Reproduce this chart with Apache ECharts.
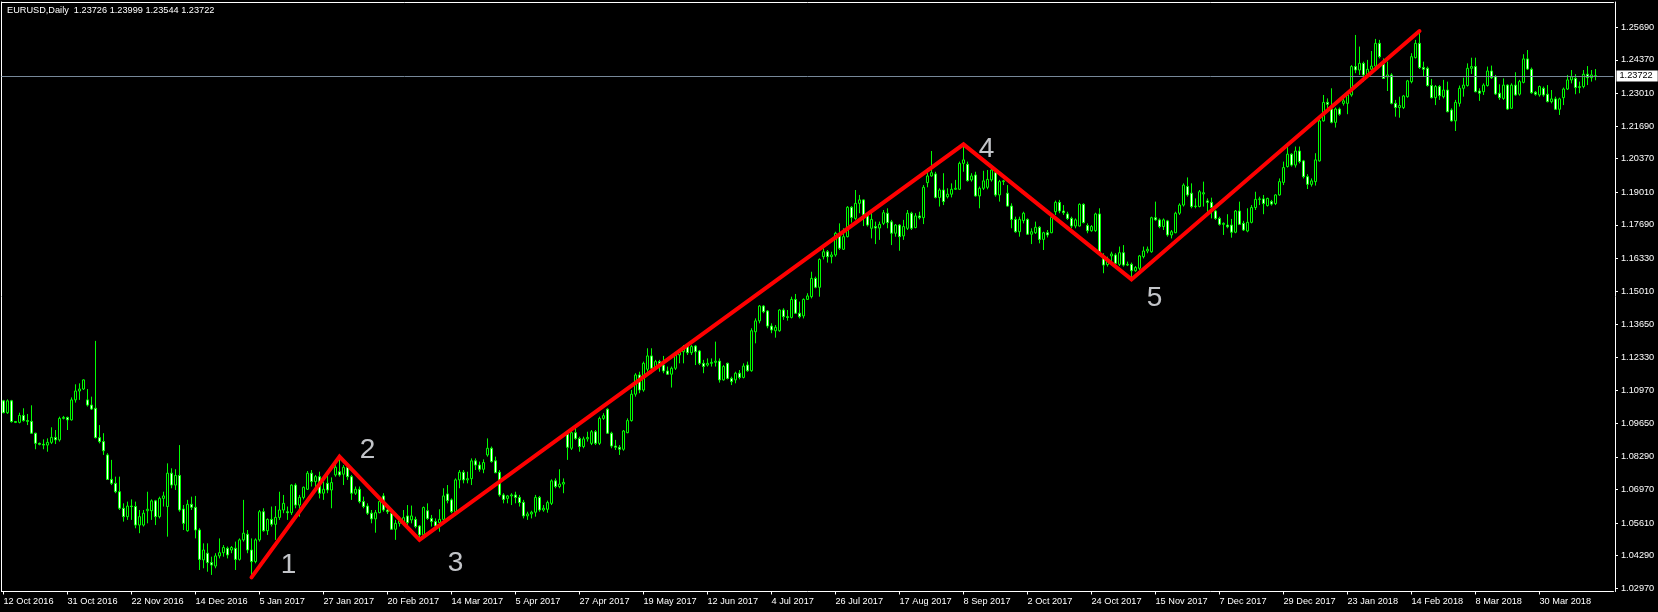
<!DOCTYPE html>
<html>
<head>
<meta charset="utf-8">
<script src="https://cdn.jsdelivr.net/npm/echarts@6/dist/echarts.min.js"></script>
<style>
html,body{margin:0;padding:0;background:#000;}
#chart{width:1658px;height:612px;}
</style>
</head>
<body>
<div id="chart"></div>
<script>
// Daily EURUSD candles: [open, close, low, high]
const candles = [
[1.1056,1.1008,1.1006,1.1060],[1.1008,1.1056,1.1003,1.1062],[1.1056,1.0972,1.0968,1.1060],[1.0972,1.0969,1.0966,1.0973],
[1.0969,1.0997,1.0965,1.1008],[1.0997,1.0976,1.0972,1.1026],[1.0976,1.0973,1.0958,1.1003],[1.0973,1.0925,1.0922,1.1038],
[1.0925,1.0884,1.0860,1.0927],[1.0884,1.0880,1.0876,1.0887],[1.0880,1.0877,1.0860,1.0900],[1.0877,1.0888,1.0850,1.0904],
[1.0888,1.0908,1.0881,1.0949],[1.0908,1.0898,1.0881,1.0938],[1.0898,1.0985,1.0891,1.0992],[1.0985,1.0989,1.0981,1.0995],
[1.0989,1.0979,1.0938,1.0992],[1.0979,1.1060,1.0976,1.1070],[1.1060,1.1096,1.1049,1.1123],[1.1096,1.1104,1.1060,1.1127],
[1.1104,1.1141,1.1100,1.1143],[1.1060,1.1039,1.1033,1.1104],[1.1039,1.1023,1.1019,1.1073],[1.1026,1.0907,1.0904,1.1299],
[1.0907,1.0891,1.0884,1.0958],[1.0891,1.0854,1.0837,1.0925],[1.0837,1.0738,1.0736,1.0844],[1.0738,1.0722,1.0715,1.0817],
[1.0722,1.0688,1.0682,1.0749],[1.0688,1.0621,1.0614,1.0749],[1.0621,1.0587,1.0567,1.0641],[1.0587,1.0630,1.0574,1.0648],
[1.0630,1.0628,1.0574,1.0657],[1.0628,1.0553,1.0540,1.0648],[1.0553,1.0587,1.0520,1.0614],[1.0553,1.0601,1.0547,1.0614],
[1.0611,1.0617,1.0560,1.0688],[1.0611,1.0651,1.0574,1.0657],[1.0651,1.0587,1.0553,1.0655],[1.0587,1.0661,1.0580,1.0668],
[1.0661,1.0671,1.0628,1.0688],[1.0628,1.0763,1.0506,1.0803],[1.0763,1.0715,1.0702,1.0783],[1.0715,1.0754,1.0695,1.0779],
[1.0754,1.0614,1.0607,1.0877],[1.0618,1.0560,1.0533,1.0634],[1.0530,1.0637,1.0526,1.0655],[1.0637,1.0625,1.0614,1.0668],
[1.0625,1.0533,1.0499,1.0671],[1.0533,1.0414,1.0371,1.0540],[1.0412,1.0452,1.0378,1.0479],[1.0439,1.0401,1.0364,1.0479],
[1.0401,1.0391,1.0351,1.0425],[1.0387,1.0428,1.0378,1.0439],[1.0428,1.0441,1.0418,1.0499],[1.0441,1.0462,1.0425,1.0472],
[1.0459,1.0432,1.0418,1.0466],[1.0452,1.0462,1.0439,1.0468],[1.0459,1.0414,1.0371,1.0486],[1.0414,1.0493,1.0409,1.0499],
[1.0493,1.0520,1.0486,1.0655],[1.0516,1.0452,1.0439,1.0533],[1.0452,1.0405,1.0345,1.0499],[1.0405,1.0493,1.0398,1.0499],
[1.0493,1.0607,1.0486,1.0614],[1.0607,1.0530,1.0526,1.0621],[1.0530,1.0576,1.0513,1.0580],[1.0576,1.0556,1.0547,1.0628],
[1.0556,1.0584,1.0493,1.0630],[1.0584,1.0614,1.0574,1.0688],[1.0614,1.0641,1.0601,1.0675],[1.0607,1.0603,1.0574,1.0628],
[1.0603,1.0715,1.0594,1.0718],[1.0715,1.0634,1.0621,1.0722],[1.0634,1.0665,1.0587,1.0675],[1.0665,1.0706,1.0657,1.0709],
[1.0698,1.0763,1.0695,1.0772],[1.0763,1.0729,1.0709,1.0776],[1.0729,1.0749,1.0695,1.0756],[1.0749,1.0682,1.0661,1.0769],
[1.0682,1.0698,1.0655,1.0729],[1.0722,1.0695,1.0682,1.0756],[1.0695,1.0725,1.0621,1.0746],[1.0756,1.0787,1.0749,1.0810],
[1.0769,1.0756,1.0749,1.0826],[1.0759,1.0787,1.0715,1.0796],[1.0786,1.0749,1.0736,1.0790],[1.0749,1.0682,1.0655,1.0756],
[1.0682,1.0698,1.0675,1.0709],[1.0698,1.0648,1.0641,1.0709],[1.0648,1.0628,1.0621,1.0668],[1.0630,1.0601,1.0594,1.0641],
[1.0601,1.0578,1.0560,1.0614],[1.0578,1.0603,1.0522,1.0614],[1.0603,1.0648,1.0601,1.0655],[1.0671,1.0614,1.0607,1.0682],
[1.0614,1.0607,1.0598,1.0621],[1.0601,1.0536,1.0533,1.0607],[1.0536,1.0560,1.0493,1.0574],[1.0560,1.0571,1.0547,1.0587],
[1.0567,1.0583,1.0560,1.0614],[1.0590,1.0563,1.0553,1.0634],[1.0574,1.0590,1.0560,1.0632],[1.0576,1.0547,1.0540,1.0587],
[1.0549,1.0513,1.0495,1.0553],[1.0513,1.0624,1.0509,1.0628],[1.0611,1.0580,1.0574,1.0641],[1.0580,1.0567,1.0547,1.0594],
[1.0567,1.0549,1.0533,1.0580],[1.0563,1.0576,1.0526,1.0617],[1.0576,1.0671,1.0574,1.0702],[1.0679,1.0652,1.0641,1.0715],
[1.0655,1.0607,1.0601,1.0661],[1.0607,1.0736,1.0601,1.0742],[1.0736,1.0767,1.0702,1.0776],[1.0767,1.0736,1.0722,1.0776],
[1.0736,1.0741,1.0722,1.0769],[1.0741,1.0813,1.0715,1.0823],[1.0813,1.0796,1.0776,1.0823],[1.0796,1.0779,1.0769,1.0810],
[1.0779,1.0806,1.0763,1.0819],[1.0837,1.0864,1.0830,1.0904],[1.0864,1.0810,1.0806,1.0871],[1.0813,1.0765,1.0763,1.0830],
[1.0767,1.0675,1.0668,1.0776],[1.0675,1.0657,1.0641,1.0682],[1.0661,1.0671,1.0641,1.0675],[1.0671,1.0675,1.0634,1.0682],
[1.0675,1.0665,1.0641,1.0688],[1.0665,1.0644,1.0628,1.0675],[1.0645,1.0590,1.0580,1.0655],[1.0590,1.0598,1.0574,1.0607],
[1.0598,1.0605,1.0580,1.0611],[1.0605,1.0665,1.0587,1.0675],[1.0665,1.0614,1.0607,1.0671],[1.0614,1.0621,1.0607,1.0634],
[1.0617,1.0644,1.0603,1.0652],[1.0641,1.0732,1.0634,1.0738],[1.0732,1.0709,1.0702,1.0742],[1.0709,1.0719,1.0702,1.0779],
[1.0719,1.0726,1.0682,1.0742],[1.0921,1.0868,1.0817,1.0931],[1.0864,1.0927,1.0857,1.0938],[1.0927,1.0904,1.0898,1.0952],
[1.0904,1.0871,1.0850,1.0911],[1.0871,1.0902,1.0864,1.0911],[1.0902,1.0908,1.0891,1.0931],[1.0884,1.0931,1.0877,1.0938],
[1.0931,1.0884,1.0877,1.0938],[1.0884,1.0985,1.0877,1.0992],[1.0985,1.0996,1.0979,1.1006],[1.1022,1.0925,1.0922,1.1026],
[1.0925,1.0873,1.0864,1.0931],[1.0873,1.0868,1.0857,1.0898],[1.0868,1.0860,1.0837,1.0877],[1.0860,1.0934,1.0854,1.0938],
[1.0927,1.0976,1.0925,1.0985],[1.0976,1.1083,1.0972,1.1100],[1.1083,1.1161,1.1073,1.1168],[1.1161,1.1100,1.1087,1.1174],
[1.1100,1.1208,1.1093,1.1215],[1.1184,1.1238,1.1174,1.1269],[1.1238,1.1188,1.1168,1.1269],[1.1188,1.1215,1.1181,1.1222],
[1.1215,1.1201,1.1174,1.1222],[1.1201,1.1177,1.1168,1.1238],[1.1177,1.1164,1.1161,1.1195],[1.1164,1.1188,1.1110,1.1195],
[1.1188,1.1242,1.1181,1.1249],[1.1242,1.1255,1.1208,1.1265],[1.1255,1.1276,1.1208,1.1282],[1.1278,1.1251,1.1242,1.1289],
[1.1251,1.1276,1.1242,1.1282],[1.1278,1.1255,1.1201,1.1282],[1.1258,1.1208,1.1201,1.1262],[1.1208,1.1195,1.1168,1.1222],
[1.1201,1.1208,1.1195,1.1228],[1.1208,1.1212,1.1195,1.1228],[1.1212,1.1217,1.1195,1.1296],[1.1217,1.1141,1.1130,1.1228],
[1.1141,1.1195,1.1138,1.1201],[1.1208,1.1147,1.1143,1.1211],[1.1147,1.1134,1.1120,1.1154],[1.1141,1.1168,1.1127,1.1174],
[1.1168,1.1151,1.1143,1.1181],[1.1151,1.1197,1.1147,1.1208],[1.1201,1.1178,1.1174,1.1215],[1.1178,1.1340,1.1174,1.1350],
[1.1336,1.1380,1.1289,1.1390],[1.1380,1.1440,1.1370,1.1444],[1.1440,1.1417,1.1411,1.1444],[1.1420,1.1359,1.1350,1.1424],
[1.1359,1.1343,1.1330,1.1370],[1.1340,1.1354,1.1312,1.1363],[1.1340,1.1424,1.1336,1.1427],[1.1424,1.1397,1.1384,1.1431],
[1.1397,1.1394,1.1381,1.1424],[1.1394,1.1467,1.1390,1.1478],[1.1467,1.1411,1.1408,1.1489],[1.1411,1.1397,1.1390,1.1458],
[1.1400,1.1467,1.1390,1.1471],[1.1467,1.1481,1.1467,1.1492],[1.1478,1.1552,1.1471,1.1579],[1.1552,1.1516,1.1512,1.1559],
[1.1516,1.1629,1.1478,1.1633],[1.1640,1.1660,1.1629,1.1674],[1.1660,1.1640,1.1616,1.1667],[1.1640,1.1647,1.1613,1.1660],
[1.1647,1.1735,1.1640,1.1741],[1.1728,1.1674,1.1667,1.1775],[1.1670,1.1721,1.1667,1.1755],[1.1721,1.1840,1.1718,1.1845],
[1.1840,1.1799,1.1778,1.1845],[1.1795,1.1856,1.1789,1.1910],[1.1856,1.1870,1.1816,1.1890],[1.1870,1.1809,1.1764,1.1872],
[1.1809,1.1768,1.1762,1.1816],[1.1755,1.1791,1.1714,1.1829],[1.1762,1.1756,1.1691,1.1782],[1.1756,1.1771,1.1708,1.1782],
[1.1775,1.1818,1.1768,1.1829],[1.1816,1.1778,1.1755,1.1836],[1.1781,1.1735,1.1687,1.1789],[1.1735,1.1768,1.1721,1.1772],
[1.1768,1.1721,1.1664,1.1772],[1.1724,1.1762,1.1708,1.1789],[1.1755,1.1816,1.1748,1.1829],[1.1816,1.1755,1.1748,1.1822],
[1.1758,1.1805,1.1755,1.1816],[1.1805,1.1798,1.1791,1.1822],[1.1798,1.1921,1.1772,1.1930],[1.1940,1.1967,1.1921,1.1998],
[1.1967,1.1980,1.1964,1.2068],[1.1975,1.1880,1.1876,1.1984],[1.1880,1.1910,1.1843,1.1917],[1.1910,1.1863,1.1849,1.1978],
[1.1883,1.1893,1.1876,1.1917],[1.1893,1.1913,1.1880,1.1937],[1.1913,1.1917,1.1910,1.1951],[1.1913,1.2018,1.1910,1.2025],
[1.2018,1.2032,1.1984,1.2090],[1.2014,1.1948,1.1944,1.2025],[1.1951,1.1967,1.1944,1.1978],[1.1971,1.1886,1.1883,1.1984],
[1.1886,1.1917,1.1836,1.1924],[1.1917,1.1947,1.1910,1.1988],[1.1921,1.1953,1.1913,1.1991],[1.1951,1.1991,1.1944,1.2011],
[1.1980,1.1890,1.1883,1.1998],[1.1890,1.1944,1.1863,1.1951],[1.1944,1.1947,1.1930,1.1951],[1.1897,1.1845,1.1843,1.1930],
[1.1845,1.1791,1.1755,1.1856],[1.1791,1.1741,1.1737,1.1802],[1.1741,1.1791,1.1721,1.1802],[1.1786,1.1816,1.1775,1.1822],
[1.1791,1.1731,1.1728,1.1795],[1.1731,1.1741,1.1691,1.1755],[1.1737,1.1759,1.1732,1.1782],[1.1759,1.1710,1.1694,1.1764],
[1.1710,1.1737,1.1667,1.1741],[1.1737,1.1728,1.1718,1.1748],[1.1737,1.1799,1.1735,1.1802],[1.1822,1.1860,1.1809,1.1867],
[1.1860,1.1825,1.1816,1.1870],[1.1825,1.1818,1.1809,1.1849],[1.1813,1.1795,1.1789,1.1822],[1.1795,1.1764,1.1755,1.1802],
[1.1764,1.1789,1.1755,1.1795],[1.1764,1.1852,1.1762,1.1856],[1.1852,1.1778,1.1775,1.1856],[1.1766,1.1745,1.1735,1.1775],
[1.1745,1.1762,1.1741,1.1768],[1.1745,1.1813,1.1741,1.1818],[1.1813,1.1660,1.1656,1.1836],[1.1633,1.1606,1.1573,1.1654],
[1.1608,1.1627,1.1600,1.1640],[1.1643,1.1651,1.1620,1.1660],[1.1647,1.1613,1.1606,1.1654],[1.1609,1.1656,1.1602,1.1681],
[1.1656,1.1606,1.1600,1.1687],[1.1606,1.1609,1.1602,1.1620],[1.1609,1.1583,1.1553,1.1616],[1.1583,1.1596,1.1579,1.1602],
[1.1593,1.1643,1.1586,1.1647],[1.1640,1.1663,1.1633,1.1681],[1.1663,1.1670,1.1654,1.1681],[1.1660,1.1798,1.1656,1.1802],
[1.1798,1.1789,1.1786,1.1863],[1.1789,1.1762,1.1755,1.1795],[1.1762,1.1789,1.1748,1.1795],[1.1785,1.1728,1.1721,1.1789],
[1.1728,1.1741,1.1714,1.1748],[1.1737,1.1816,1.1735,1.1822],[1.1816,1.1849,1.1809,1.1856],[1.1849,1.1930,1.1843,1.1937],
[1.1924,1.1890,1.1883,1.1961],[1.1897,1.1843,1.1836,1.1937],[1.1843,1.1845,1.1836,1.1876],[1.1843,1.1903,1.1840,1.1910],
[1.1894,1.1899,1.1843,1.1944],[1.1866,1.1860,1.1822,1.1876],[1.1860,1.1839,1.1795,1.1879],[1.1825,1.1795,1.1789,1.1829],
[1.1795,1.1771,1.1766,1.1802],[1.1771,1.1775,1.1728,1.1779],[1.1768,1.1761,1.1755,1.1812],[1.1768,1.1739,1.1717,1.1793],
[1.1739,1.1825,1.1735,1.1829],[1.1825,1.1771,1.1768,1.1863],[1.1775,1.1748,1.1744,1.1785],[1.1744,1.1779,1.1739,1.1836],
[1.1779,1.1839,1.1775,1.1849],[1.1839,1.1872,1.1829,1.1903],[1.1872,1.1874,1.1849,1.1883],[1.1874,1.1855,1.1812,1.1890],
[1.1847,1.1876,1.1843,1.1879],[1.1863,1.1853,1.1847,1.1870],[1.1855,1.1890,1.1849,1.1893],[1.1890,1.1944,1.1887,1.1957],
[1.1941,1.2001,1.1930,1.2025],[1.2005,1.2055,1.2001,1.2086],[1.2055,1.2011,1.2005,1.2059],[1.2011,1.2068,1.2001,1.2086],
[1.2068,1.2025,1.2018,1.2086],[1.2028,1.1964,1.1957,1.2032],[1.1964,1.1933,1.1914,1.1974],[1.1933,1.1947,1.1924,1.1957],
[1.1944,1.2032,1.1928,1.2059],[1.2028,1.2190,1.2025,1.2198],[1.2190,1.2265,1.2187,1.2295],[1.2265,1.2257,1.2241,1.2281],
[1.2238,1.2184,1.2180,1.2322],[1.2184,1.2238,1.2163,1.2244],[1.2238,1.2217,1.2211,1.2244],[1.2261,1.2271,1.2252,1.2288],
[1.2261,1.2295,1.2217,1.2308],[1.2295,1.2410,1.2288,1.2416],[1.2410,1.2396,1.2383,1.2538],[1.2396,1.2423,1.2376,1.2491],
[1.2423,1.2376,1.2349,1.2430],[1.2376,1.2399,1.2369,1.2437],[1.2399,1.2412,1.2389,1.2473],[1.2412,1.2504,1.2406,1.2522],
[1.2504,1.2450,1.2443,1.2518],[1.2419,1.2362,1.2360,1.2443],[1.2368,1.2376,1.2311,1.2430],[1.2376,1.2261,1.2257,1.2383],
[1.2261,1.2244,1.2207,1.2275],[1.2244,1.2252,1.2203,1.2288],[1.2244,1.2291,1.2238,1.2295],[1.2288,1.2352,1.2284,1.2356],
[1.2349,1.2450,1.2342,1.2464],[1.2446,1.2504,1.2443,1.2518],[1.2504,1.2406,1.2400,1.2554],[1.2406,1.2399,1.2369,1.2430],
[1.2403,1.2333,1.2329,1.2410],[1.2333,1.2284,1.2281,1.2360],[1.2284,1.2329,1.2254,1.2335],[1.2329,1.2292,1.2275,1.2335],
[1.2288,1.2315,1.2281,1.2356],[1.2315,1.2227,1.2225,1.2349],[1.2234,1.2190,1.2187,1.2241],[1.2190,1.2265,1.2149,1.2275],
[1.2261,1.2322,1.2248,1.2333],[1.2322,1.2335,1.2288,1.2365],[1.2333,1.2403,1.2329,1.2423],[1.2403,1.2410,1.2380,1.2446],
[1.2410,1.2308,1.2306,1.2446],[1.2311,1.2302,1.2271,1.2322],[1.2308,1.2335,1.2295,1.2342],[1.2333,1.2392,1.2329,1.2410],
[1.2392,1.2365,1.2360,1.2414],[1.2369,1.2299,1.2295,1.2376],[1.2302,1.2284,1.2275,1.2338],[1.2281,1.2335,1.2275,1.2362],
[1.2335,1.2238,1.2234,1.2338],[1.2241,1.2335,1.2238,1.2342],[1.2335,1.2295,1.2292,1.2387],[1.2298,1.2349,1.2292,1.2356],
[1.2346,1.2441,1.2342,1.2460],[1.2441,1.2400,1.2396,1.2477],[1.2399,1.2304,1.2300,1.2406],[1.2306,1.2298,1.2292,1.2311],
[1.2295,1.2329,1.2288,1.2333],[1.2322,1.2295,1.2288,1.2329],[1.2298,1.2268,1.2265,1.2335],[1.2268,1.2279,1.2261,1.2315],
[1.2279,1.2237,1.2234,1.2288],[1.2237,1.2279,1.2214,1.2284],[1.2284,1.2319,1.2254,1.2325],[1.2319,1.2356,1.2315,1.2376],
[1.2356,1.2369,1.2342,1.2396],[1.2362,1.2325,1.2298,1.2379],[1.2325,1.2329,1.2302,1.2349],[1.2329,1.2379,1.2322,1.2396],
[1.2379,1.2365,1.2335,1.2412],[1.2365,1.2376,1.2349,1.2396],[1.23726,1.23722,1.23544,1.23999]
];

// Date tick labels shown every 16 bars
const tickLabels = ['12 Oct 2016','31 Oct 2016','22 Nov 2016','14 Dec 2016','5 Jan 2017','27 Jan 2017','20 Feb 2017',
  '14 Mar 2017','5 Apr 2017','27 Apr 2017','19 May 2017','12 Jun 2017','4 Jul 2017','26 Jul 2017','17 Aug 2017',
  '8 Sep 2017','2 Oct 2017','24 Oct 2017','15 Nov 2017','7 Dec 2017','29 Dec 2017','23 Jan 2018','14 Feb 2018',
  '8 Mar 2018','30 Mar 2018'];

// Price tick labels on the right axis
const yTicks = [1.25690,1.24370,1.23010,1.21690,1.20370,1.19010,1.17690,1.16330,1.15010,
  1.13650,1.12330,1.10970,1.09650,1.08290,1.06970,1.05610,1.04290,1.02970];

// Wave annotation (bar index, price, label)
const waveIdx = [62, 84, 104, 240, 282, 354];
const waveVal = [1.0341, 1.0830, 1.0493, 1.2095, 1.1548, 1.2554];
const waveLabels = ['1','2','3','4','5',''];

const symbolName = 'EURUSD,Daily';

// ---- categories: trading days ----
const categories = [];
(function(){
  const d = new Date(Date.UTC(2016, 9, 7));
  const total = candles.length + 4;
  while (categories.length < total) {
    const wd = d.getUTCDay();
    const s = d.getUTCFullYear() + '.' + String(d.getUTCMonth()+1).padStart(2,'0') + '.' + String(d.getUTCDate()).padStart(2,'0');
    if (wd !== 0 && wd !== 6 && s !== '2018.01.01') categories.push(s);
    d.setUTCDate(d.getUTCDate() + 1);
  }
})();

const FONT = "'Liberation Sans',Arial,sans-serif";
const FS = 9.2;
const labelOffsets = [[37,-12],[28,-6],[36,23.5],[23,5],[23,19],[0,0]];
const last = candles[candles.length-1];
const titleText = symbolName + '  ' + [last[0], last[3], last[2], last[1]].map(v => v.toFixed(5)).join(' ');

const tickInterval = (idx) => idx % 16 === 0 && (idx / 16) < tickLabels.length;
const Y_MIN = 1.02839, Y_MAX = 1.26715;

const chart = echarts.init(document.getElementById('chart'), null, {renderer: 'canvas'});
chart.setOption({
  backgroundColor: '#000000',
  animation: false,
  title: {
    text: titleText, left: 7, top: 6, padding: 0,
    textStyle: {color: '#ffffff', fontSize: FS, fontWeight: 'normal', fontFamily: FONT}
  },
  grid: {left: 1.5, top: 2, width: 1612, height: 589.5},
  xAxis: [{
    type: 'category', data: categories, boundaryGap: true,
    axisLine: {show: true, lineStyle: {color: '#ffffff', width: 1}},
    axisTick: {show: true, alignWithLabel: true, interval: tickInterval, length: 3, lineStyle: {color: '#ffffff'}},
    axisLabel: {
      interval: tickInterval, align: 'left', margin: 5,
      formatter: (v, idx) => tickLabels[idx / 16] || '',
      color: '#ffffff', fontSize: FS, fontFamily: FONT
    },
    splitLine: {show: false}
  }, {
    type: 'category', data: categories, position: 'top', boundaryGap: true,
    axisLine: {show: true, lineStyle: {color: '#ffffff', width: 1}},
    axisTick: {show: false}, axisLabel: {show: false}, splitLine: {show: false}
  }],
  yAxis: [{
    type: 'value', position: 'right', offset: 1.5, min: Y_MIN, max: Y_MAX,
    axisLine: {show: true, lineStyle: {color: '#ffffff', width: 1}},
    axisTick: {show: true, customValues: yTicks, length: 3, lineStyle: {color: '#ffffff'}},
    axisLabel: {customValues: yTicks, formatter: v => v.toFixed(5), color: '#ffffff', fontSize: FS, fontFamily: FONT, margin: 6},
    splitLine: {show: false}
  }, {
    type: 'value', position: 'left', min: Y_MIN, max: Y_MAX,
    axisLine: {show: true, lineStyle: {color: '#ffffff', width: 1}},
    axisTick: {show: false}, axisLabel: {show: false}, splitLine: {show: false}
  }],
  series: [{
    type: 'candlestick', data: candles, barWidth: 2, z: 3,
    itemStyle: {color: '#000000', color0: '#ffffff', borderColor: '#00ff00', borderColor0: '#00ff00', borderColorDoji: '#00ff00', borderWidth: 1}
  }, {
    // current bid line (reference line only)
    type: 'line', silent: true, z: 4, symbol: 'none', data: [],
    markLine: {
      silent: true, symbol: ['none','none'], precision: 5,
      lineStyle: {color: '#778899', type: 'solid', width: 1},
      label: {
        show: true, position: 'end', distance: 3, formatter: last[1].toFixed(5),
        color: '#000000', backgroundColor: '#ffffff', padding: [1,5,0,3], lineHeight: 10,
        fontSize: FS, fontFamily: FONT
      },
      data: [{yAxis: last[1]}]
    }
  }, {
    type: 'line', silent: true, z: 5, symbol: 'none',
    data: waveIdx.map((x, k) => [x, waveVal[k]]),
    lineStyle: {color: '#ff0000', width: 4, cap: 'round', join: 'miter'}
  }, {
    type: 'scatter', silent: true, z: 6, symbolSize: 1,
    itemStyle: {color: 'rgba(0,0,0,0)'},
    data: waveIdx.map((x, k) => ({
      value: [x, waveVal[k]],
      label: {show: waveLabels[k] !== '', offset: labelOffsets[k], formatter: waveLabels[k]}
    })),
    label: {position: 'inside', color: '#f2f5fa', fontSize: 28, fontFamily: "'Liberation Sans',Arial,sans-serif", align: 'center', verticalAlign: 'middle'}
  }]
});
</script>
</body>
</html>
